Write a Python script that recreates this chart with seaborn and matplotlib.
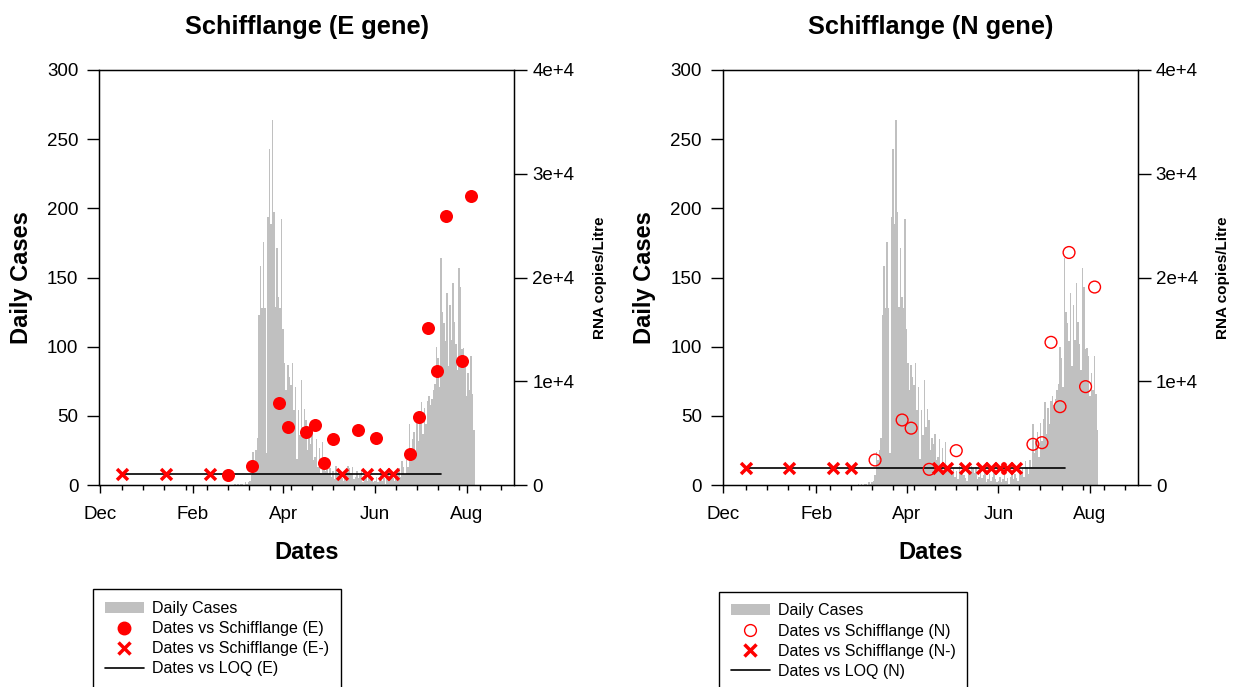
import numpy as np
import pandas as pd
import matplotlib
matplotlib.use('Agg')
import matplotlib.pyplot as plt
import matplotlib.dates as mdates
from matplotlib.patches import Patch
from matplotlib.lines import Line2D
from matplotlib.ticker import FuncFormatter, FixedLocator
import seaborn as sns

# daily cases, one value per day starting 29 Feb 2020
case_start = '2020-02-29'
cases_feb = [1]
cases_mar = [0, 1, 0, 1, 1, 0, 2, 1, 2, 3, 7, 24, 18, 25, 34, 123, 158, 128, 176, 128,
             23, 194, 243, 189, 264, 197, 129, 171, 136, 128, 192]
cases_apr = [113, 88, 69, 87, 78, 72, 88, 54, 71, 19, 54, 36, 76, 42, 55, 47, 25, 34, 30, 37,
             18, 20, 33, 13, 27, 9, 31, 13, 10, 15]
cases_may = [8, 12, 6, 10, 4, 14, 9, 11, 7, 5, 3, 10, 8, 14, 12, 9, 13, 4, 6, 10,
             5, 7, 11, 2, 4, 8, 3, 6, 9, 4, 2]
cases_jun = [3, 6, 2, 4, 7, 3, 5, 1, 6, 9, 4, 8, 5, 3, 10, 7, 12, 6, 17, 13,
             8, 18, 13, 44, 23, 33, 38, 20, 45, 32]
cases_jul = [48, 60, 37, 56, 44, 61, 64, 58, 62, 69, 73, 100, 92, 71, 164, 125, 117, 104, 139, 86,
             130, 105, 146, 118, 102, 83, 157, 143, 98, 99, 93]
cases_aug = [64, 81, 69, 93, 66, 40]
daily_cases = cases_feb + cases_mar + cases_apr + cases_may + cases_jun + cases_jul + cases_aug

# E gene (RNA copies/Litre)
e_pos_dates = ['2020-02-24', '2020-03-11', '2020-03-29', '2020-04-04', '2020-04-16', '2020-04-22',
               '2020-04-28', '2020-05-04', '2020-05-21', '2020-06-02', '2020-06-24', '2020-06-30',
               '2020-07-06', '2020-07-12', '2020-07-18', '2020-07-29', '2020-08-04']
e_pos_values = [960, 1860, 7875, 5550, 5120, 5820, 2150, 4400, 5300, 4530, 2960, 6525,
                15180, 11020, 25960, 12000, 27890]
e_neg_dates = ['2019-12-16', '2020-01-14', '2020-02-12', '2020-05-10', '2020-05-27',
               '2020-06-07', '2020-06-13']
loq_e = 1100

# N gene (RNA copies/Litre)
n_pos_dates = ['2020-03-11', '2020-03-29', '2020-04-04', '2020-04-16', '2020-05-04', '2020-06-24',
               '2020-06-30', '2020-07-06', '2020-07-12', '2020-07-18', '2020-07-29', '2020-08-04']
n_pos_values = [2410, 6265, 5480, 1510, 3310, 3920, 4080, 13750, 7550, 22410, 9480, 19080]
n_neg_dates = ['2019-12-16', '2020-01-14', '2020-02-12', '2020-02-24', '2020-04-22', '2020-04-28',
               '2020-05-10', '2020-05-21', '2020-05-27', '2020-06-02', '2020-06-07', '2020-06-13']
loq_n = 1600

loq_span = ['2019-12-16', '2020-07-15']

sns.set_style('ticks', {'axes.edgecolor': 'black', 'text.color': 'black', 'axes.labelcolor': 'black',
                        'xtick.color': 'black', 'ytick.color': 'black'})
plt.rcParams['font.family'] = ['Liberation Sans', 'DejaVu Sans']

RED = '#FF0000'
GREY = '#C0C0C0'


def panel(fig, rect, title, gene, pos_dates, pos_values, neg_dates, loq, filled, leg_xy):
    ax = fig.add_axes(rect)
    days = pd.date_range(case_start, periods=len(daily_cases), freq='D')
    ax.bar(days, daily_cases, width=1.0, color=GREY, linewidth=0)
    ax.set_ylim(0, 300)
    ax.set_yticks([0, 50, 100, 150, 200, 250, 300])
    ax.set_xlim(pd.Timestamp('2019-11-30 16:00'), pd.Timestamp('2020-09-01 16:00'))
    ax.xaxis.set_major_locator(mdates.MonthLocator(bymonth=[12, 2, 4, 6, 8]))
    ax.xaxis.set_major_formatter(mdates.DateFormatter('%b'))
    ax.xaxis.set_minor_locator(FixedLocator(mdates.date2num(
        pd.date_range('2019-12-16', '2020-09-01', freq='14D'))))
    ax.tick_params(axis='x', which='major', length=6, width=1, pad=9, labelsize=13.5)
    ax.tick_params(axis='x', which='minor', length=3.5, width=1)
    ax.tick_params(axis='y', length=9, width=1, pad=6, labelsize=13.5)
    ax.set_title(title, fontsize=18.3, fontweight='bold', pad=26)
    ax.set_xlabel('Dates', fontsize=17, fontweight='bold', labelpad=13)
    ax.set_ylabel('Daily Cases', fontsize=17, fontweight='bold', labelpad=10)
    for s in ax.spines.values():
        s.set_linewidth(1.0)

    ax2 = ax.twinx()
    sns.lineplot(x=pd.to_datetime(loq_span), y=[loq, loq], ax=ax2, color='black', linewidth=1.2)
    if filled:
        sns.scatterplot(x=pd.to_datetime(pos_dates), y=pos_values, ax=ax2, color=RED, s=88,
                        linewidth=0, zorder=3)
    else:
        sns.scatterplot(x=pd.to_datetime(pos_dates), y=pos_values, ax=ax2, s=72,
                        facecolor='none', edgecolor=RED, linewidth=1.0, zorder=3)
    sns.scatterplot(x=pd.to_datetime(neg_dates), y=[loq] * len(neg_dates), ax=ax2, marker='x',
                    color=RED, s=62, linewidth=2.5, zorder=4)
    ax2.set_ylim(0, 40000)
    ax2.set_yticks([0, 10000, 20000, 30000, 40000])
    ax2.yaxis.set_major_formatter(FuncFormatter(lambda v, p: '0' if v == 0 else f'{int(v / 1e4)}e+4'))
    ax2.tick_params(axis='y', length=9, width=1, pad=4, labelsize=13.5)
    ax2.set_ylabel('RNA copies/Litre', fontsize=11, fontweight='bold', labelpad=13)
    ax2.set_xlim(ax.get_xlim())

    if filled:
        pos_handle = Line2D([], [], linestyle='none', marker='o', color=RED, markersize=9)
    else:
        pos_handle = Line2D([], [], linestyle='none', marker='o', markerfacecolor='none',
                            markeredgecolor=RED, markersize=8.5, markeredgewidth=1.0)
    handles = [Patch(facecolor=GREY, edgecolor='none'),
               pos_handle,
               Line2D([], [], linestyle='none', marker='x', color=RED, markersize=8,
                      markeredgewidth=2.5),
               Line2D([], [], color='black', linewidth=1.2)]
    labels = ['Daily Cases', f'Dates vs Schifflange ({gene})', f'Dates vs Schifflange ({gene}-)',
              f'Dates vs LOQ ({gene})']
    leg = ax.legend(handles, labels, loc='upper left', bbox_to_anchor=leg_xy,
                    bbox_transform=fig.transFigure, borderaxespad=0, frameon=True, fancybox=False,
                    edgecolor='black', framealpha=1, fontsize=11.5, handlelength=2.4,
                    handletextpad=0.5, borderpad=0.75, labelspacing=0.32)
    leg.get_frame().set_linewidth(1.0)
    return ax, ax2


fig = plt.figure(figsize=(12.37, 6.87), dpi=100)
W, H = 1237, 687
panel(fig, [99.3 / W, 1 - 485 / H, 415 / W, 415 / H], 'Schifflange (E gene)', 'E',
      e_pos_dates, e_pos_values, e_neg_dates, loq_e, True, (93.3 / W, 1 - 589 / H))
panel(fig, [722.7 / W, 1 - 485 / H, 415 / W, 415 / H], 'Schifflange (N gene)', 'N',
      n_pos_dates, n_pos_values, n_neg_dates, loq_n, False, (719.3 / W, 1 - 591.5 / H))

fig.savefig('out.png', dpi=100)
